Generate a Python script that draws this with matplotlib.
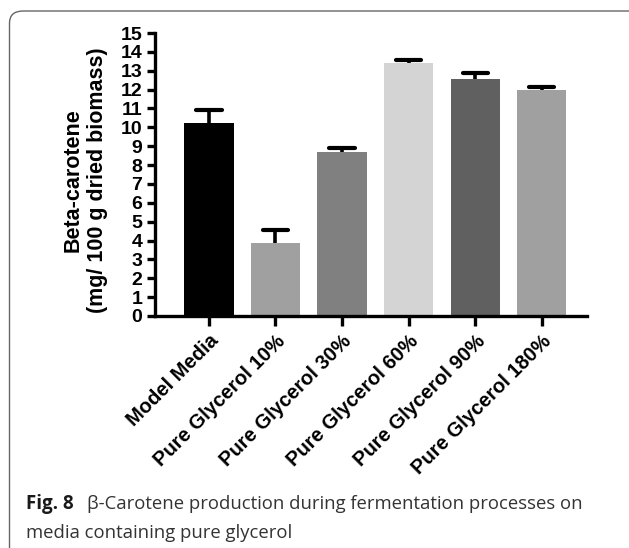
import matplotlib.pyplot as plt
from matplotlib.patches import FancyBboxPatch

# beta-carotene per medium
categories = ["Model Media", "Pure Glycerol 10%", "Pure Glycerol 30%",
              "Pure Glycerol 60%", "Pure Glycerol 90%", "Pure Glycerol 180%"]
means = [10.25, 3.88, 8.67, 13.42, 12.56, 11.96]
errors = [0.65, 0.67, 0.21, 0.15, 0.30, 0.19]
bar_colors = ["#000000", "#a0a0a0", "#808080", "#d4d4d4", "#606060", "#a0a0a0"]

plt.rcParams['font.family'] = ['Liberation Sans', 'DejaVu Sans']

fig = plt.figure(figsize=(6.29, 5.48), dpi=100)

# rounded frame round the figure
frame = FancyBboxPatch((9.5 / 629, -20 / 548), 660 / 629, 557 / 548,
                       boxstyle="round,pad=0,rounding_size=0.022",
                       transform=fig.transFigure, fill=False,
                       edgecolor="#666666", linewidth=1.0)
fig.patches.append(frame)

ax = fig.add_axes([155 / 629, 1 - 316 / 548, 432 / 629, 283 / 548])

x = list(range(len(categories)))
ax.bar(x, means, width=0.74, color=bar_colors, zorder=2)

# upper error bars only
tops = [m + e for m, e in zip(means, errors)]
ax.vlines(x, means, tops, colors='black', linewidth=2.6, zorder=3)
ax.hlines(tops, [i - 0.19 for i in x], [i + 0.19 for i in x],
          colors='black', linewidth=3.0, zorder=3, capstyle='round')

ax.set_xlim(-0.81, 5.68)
ax.set_ylim(0, 15)
ax.set_yticks(range(16))
ax.set_xticks(x)
ax.set_xticklabels(categories, rotation=45, ha='right', rotation_mode='anchor',
                   fontsize=14.5, fontweight='bold')
for lab in ax.get_yticklabels():
    lab.set_fontweight('bold')
    lab.set_fontsize(14)

for side in ['top', 'right']:
    ax.spines[side].set_visible(False)
for side in ['left', 'bottom']:
    ax.spines[side].set_linewidth(2.4)
ax.tick_params(axis='y', width=2.4, length=6, pad=3)
ax.tick_params(axis='x', width=2.4, length=7, pad=4)

ax.set_ylabel("Beta-carotene\n(mg/ 100 g dried biomass)", fontsize=15.5,
              fontweight='bold', linespacing=1.25)
ax.yaxis.set_label_coords(-0.108, 0.48)

# caption
cap_font = ['Open Sans', 'DejaVu Sans']
fig.text(26 / 629, 1 - 509 / 548, "Fig. 8", fontsize=13.5, fontweight='bold',
         family=cap_font, color='#1a1a1a', va='baseline')
fig.text(87 / 629, 1 - 509 / 548,
         "\u03b2-Carotene production during fermentation processes on",
         fontsize=13.3, family=cap_font, color='#333333', va='baseline')
fig.text(26 / 629, 1 - 538 / 548, "media containing pure glycerol",
         fontsize=13.3, family=cap_font, color='#333333', va='baseline')

fig.savefig("out.png", dpi=100)
